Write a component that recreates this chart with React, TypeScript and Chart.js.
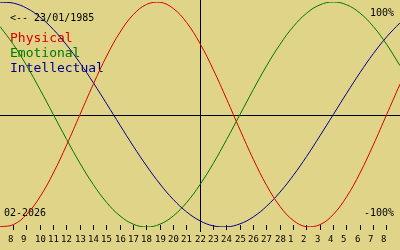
import React, { useEffect, useRef } from "react";
import { Chart, registerables } from "chart.js";

Chart.register(...registerables);

// Day index 0..30 = 7 Feb 2026 .. 9 Mar 2026
const dayIndex: number[] = Array.from({ length: 31 }, (_, i) => i);

const physical: number[] = [
  -99.8, -97.9, -88.8, -73.1, -52.0, -27.0, 0, 27.0, 52.0, 73.1, 88.8, 97.9, 99.8, 94.2, 81.7, 63.1,
  39.8, 13.6, -13.6, -39.8, -63.1, -81.7, -94.2, -99.8, -97.9, -88.8, -73.1, -52.0, -27.0, 0, 27.0,
];
const emotional: number[] = [
  78.2, 62.3, 43.4, 22.2, 0, -22.2, -43.4, -62.3, -78.2, -90.1, -97.5, -100, -97.5, -90.1, -78.2, -62.3,
  -43.4, -22.2, 0, 22.2, 43.4, 62.3, 78.2, 90.1, 97.5, 100, 97.5, 90.1, 78.2, 62.3, 43.4,
];
const intellectual: number[] = [
  99.9, 99.0, 94.5, 86.6, 75.6, 61.8, 45.8, 28.2, 9.5, -9.5, -28.2, -45.8, -61.8, -75.6, -86.6, -94.5,
  -99.0, -99.9, -97.2, -91.0, -81.5, -69.0, -54.1, -37.2, -18.9, 0, 18.9, 37.2, 54.1, 69.0, 81.5,
];

// tick labels at day index 1..29
const tickLabels: string[] = [
  "8", "9", "10", "11", "12", "13", "14", "15", "16", "17", "18", "19", "20", "21", "22", "23", "24",
  "25", "26", "27", "28", "1", "2", "3", "4", "5", "6", "7", "8",
];
const todayIndex = 15;
const birthText = "<-- 23/01/1985";
const monthText = "02-2026";
const seriesNames: string[] = ["Physical", "Emotional", "Intellectual"];
const seriesColors: string[] = ["#d80000", "#007800", "#000090"];

const BG = "rgb(224,212,136)";
const MONO = "'DejaVu Sans Mono', monospace";

const bioPlugin = {
  id: "bio",
  beforeDraw(chart: any) {
    const ctx = chart.ctx;
    ctx.save();
    ctx.fillStyle = BG;
    ctx.fillRect(0, 0, chart.width, chart.height);
    ctx.restore();
  },
  beforeDatasetsDraw(chart: any) {
    const ctx = chart.ctx;
    const xs = chart.scales.x;
    const ys = chart.scales.y;
    ctx.save();
    ctx.fillStyle = "#000";
    // zero line
    const y0 = Math.round(ys.getPixelForValue(0));
    ctx.fillRect(0, y0, chart.width, 1);
    // today line
    const xt = Math.floor(xs.getPixelForValue(todayIndex));
    ctx.fillRect(xt, 0, 1, 232);
    // ticks + labels
    ctx.font = "9px " + MONO;
    ctx.textAlign = "left";
    ctx.textBaseline = "alphabetic";
    tickLabels.forEach((lab, k) => {
      const px = Math.floor(xs.getPixelForValue(k + 1));
      ctx.fillRect(px, 225, 1, 5);
      ctx.fillText(lab, px - 5, 242);
    });
    // texts
    ctx.font = "10px " + MONO;
    ctx.fillText(birthText, 10, 21);
    ctx.fillText(monthText, 4, 216);
    ctx.textAlign = "right";
    ctx.fillText("100%", 394, 16);
    ctx.fillText("-100%", 394, 216);
    ctx.textAlign = "left";
    ctx.font = "13px " + MONO;
    seriesNames.forEach((n, k) => {
      ctx.fillStyle = seriesColors[k];
      ctx.fillText(n, 10, 42 + k * 15);
    });
    ctx.restore();
  },
};

export default function App() {
  const ref = useRef<HTMLCanvasElement | null>(null);
  useEffect(() => {
    document.body.style.margin = "0";
    if (!ref.current) return;
    const mk = (d: number[], c: string) => ({
      data: d.map((v, i) => ({ x: dayIndex[i], y: v })),
      borderColor: c,
      borderWidth: 1,
      pointRadius: 0,
      tension: 0.4,
      fill: false,
    });
    const chart = new Chart(ref.current, {
      type: "line",
      data: {
        datasets: [
          mk(physical, seriesColors[0]),
          mk(emotional, seriesColors[1]),
          mk(intellectual, seriesColors[2]),
        ],
      },
      options: {
        animation: false,
        responsive: false,
        devicePixelRatio: 1,
        layout: { padding: { top: 2, bottom: 23, left: 0, right: 0 } },
        scales: {
          x: { type: "linear", min: 0, max: 30, display: false },
          y: { min: -100, max: 100, display: false },
        },
        plugins: { legend: { display: false }, tooltip: { enabled: false } },
      },
      plugins: [bioPlugin],
    } as any);
    return () => chart.destroy();
  }, []);
  return (
    <div style={{ width: 400, height: 250 }}>
      <canvas ref={ref} width={400} height={250} style={{ display: "block" }} />
    </div>
  );
}
